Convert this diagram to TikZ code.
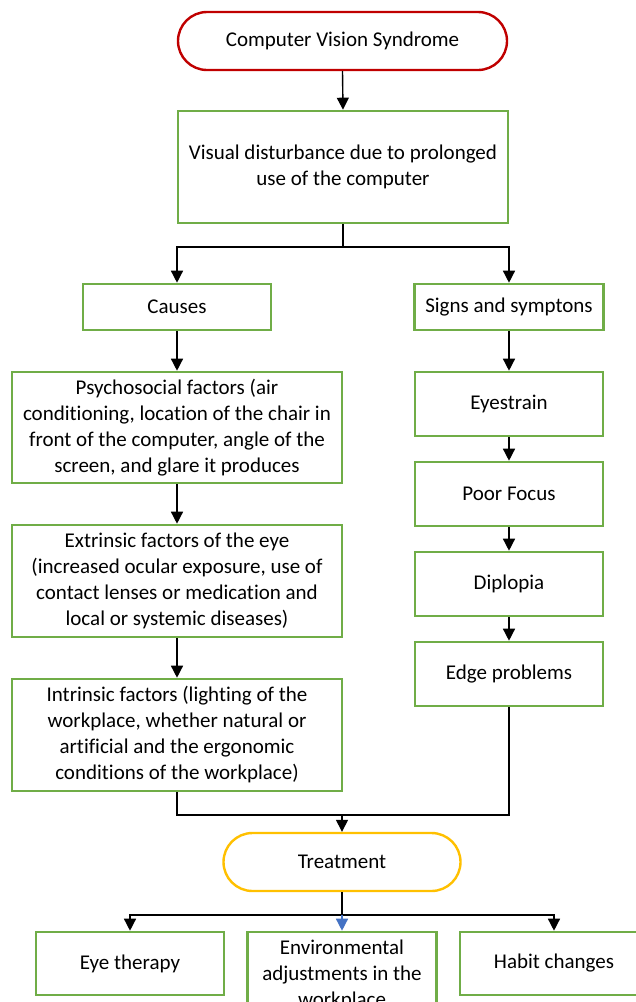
\documentclass[tikz,border=0pt]{standalone}
\usepackage{fontspec}
\setmainfont{Carlito}[Ligatures={NoCommon}]
\usetikzlibrary{arrows.meta}
\definecolor{boxgreen}{RGB}{112,173,71}
\definecolor{cvsred}{RGB}{192,0,0}
\definecolor{treatyellow}{RGB}{255,192,0}
\definecolor{arrblue}{RGB}{68,114,196}
\tikzset{
  gbox/.style={draw=boxgreen, line width=2.6pt, fill=white, align=center, inner sep=0pt,
    font=\fontsize{21}{26}\selectfont},
  pill/.style={line width=2.4pt, fill=white, align=center, inner sep=0pt, rounded corners=29pt,
    font=\fontsize{21}{26}\selectfont},
  conn/.style={draw=black, line width=1.4pt},
  arr/.style={conn, -{Triangle[width=12pt,length=12pt]}},
}
\begin{document}
\begin{tikzpicture}[x=1pt,y=-1pt]
\useasboundingbox (0,0) rectangle (636,1002);
\clip (0,0) rectangle (636,1002);
\fill[white] (0,0) rectangle (636,1002);

\node[pill, draw=cvsred, minimum width=329pt, minimum height=58pt] (cvs) at (342.5,41) {Computer Vision Syndrome};
\node[gbox, minimum width=330pt, minimum height=112pt] (vis) at (343,167) {Visual disturbance due to prolonged\\use of the computer};
\node[gbox, minimum width=188pt, minimum height=46pt] (causes) at (177,307) {Causes};
\node[gbox, minimum width=189pt, minimum height=46pt] (signs) at (509,307) {Signs and symptons};
\node[gbox, minimum width=330pt, minimum height=111pt] (psy) at (177,427.5) {Psychosocial factors (air\\conditioning, location of the chair in\\front of the computer, angle of the\\screen, and glare it produces};
\node[gbox, minimum width=330pt, minimum height=112pt] (ext) at (177,581) {Extrinsic factors of the eye\\(increased ocular exposure, use of\\contact lenses or medication and\\local or systemic diseases)};
\node[gbox, minimum width=330pt, minimum height=112pt] (intr) at (177,735) {Intrinsic factors (lighting of the\\workplace, whether natural or\\artificial and the ergonomic\\conditions of the workplace)};
\node[gbox, minimum width=188pt, minimum height=64pt] (eyes) at (509,404) {Eyestrain};
\node[gbox, minimum width=188pt, minimum height=64pt] (poor) at (509,494) {Poor Focus};
\node[gbox, minimum width=188pt, minimum height=64pt] (dipl) at (509,584) {Diplopia};
\node[gbox, minimum width=188pt, minimum height=64pt] (edge) at (509,674) {Edge problems};
\node[pill, draw=treatyellow, minimum width=237pt, minimum height=58pt] (treat) at (342,862) {Treatment};
\node[gbox, minimum width=188pt, minimum height=63pt] (eyet) at (130,963.5) {Eye therapy};
\node[gbox, minimum width=189pt, minimum height=86pt] (env) at (342,975) {Environmental\\adjustments in the\\workplace};
\node[gbox, minimum width=188pt, minimum height=63pt] (habit) at (554,963.5) {Habit changes};

\coordinate (s1) at (343,247);
\coordinate (m1) at (342,815);
\coordinate (t1) at (342,915);

\draw[arr] (cvs.south) -- (vis.north);
\draw[conn] (vis.south) -- (s1);
\draw[arr] (s1) -| (causes.north);
\draw[arr] (s1) -| (signs.north);
\draw[arr] (causes) -- (psy);
\draw[arr] (psy) -- (ext);
\draw[arr] (ext) -- (intr);
\draw[arr] (signs) -- (eyes);
\draw[arr] (eyes) -- (poor);
\draw[arr] (poor) -- (dipl);
\draw[arr] (dipl) -- (edge);
\draw[conn] (intr.south) |- (m1);
\draw[conn] (edge.south) |- (m1);
\draw[arr] (m1) -- (treat.north);
\draw[conn] (treat.south) -- (t1);
\draw[arr] (t1) -| (eyet.north);
\draw[arr] (t1) -| (habit.north);
\draw[arr, draw=arrblue, fill=arrblue] (t1) -- (env.north);
\end{tikzpicture}
\end{document}
